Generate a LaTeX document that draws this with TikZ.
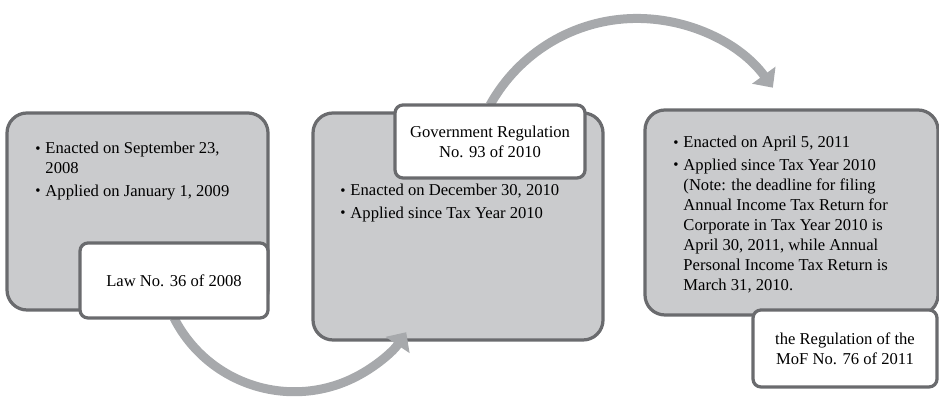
\documentclass[tikz,border=0pt]{standalone}
\usepackage{fontspec}
\setmainfont{Liberation Serif}
\usetikzlibrary{arrows.meta}
\definecolor{boxgray}{HTML}{CACBCD}
\definecolor{edgegray}{HTML}{6A6B6E}
\definecolor{flowgray}{HTML}{A7A9AC}
\newcommand{\bul}{\raisebox{0.1ex}{\scalebox{0.9}{\textbullet}}\hspace{0.3em}}
\newcommand{\bulgap}{\hphantom{\bul}}
\begin{document}
\begin{tikzpicture}[
  panel/.style={draw=edgegray, line width=2.3pt, fill=boxgray, rounded corners=0.5cm},
  tag/.style={draw=edgegray, line width=2.3pt, fill=white, rounded corners=0.2cm, align=center},
  notes/.style={anchor=north west, align=left, inner sep=0pt},
  flow/.style={draw=flowgray, line width=6.4pt, -{Triangle[width=20pt, length=11pt]}}
]
\useasboundingbox (0,0) rectangle (23.475,10);
\fontsize{11.8}{14.2}\selectfont
% panels
\node[panel, minimum width=6.525cm, minimum height=4.925cm] (p1) at (3.4375,4.7125) {};
\node[panel, minimum width=7.25cm, minimum height=5.675cm] (p2) at (11.45,4.3375) {};
\node[panel, minimum width=7.325cm, minimum height=5.125cm] (p3) at (19.7875,4.6875) {};

% arrows
\coordinate (s1) at (4.35,2.05);
\coordinate (s2) at (12.25,7.375);
\draw[flow] (s1) arc[start angle=207, end angle=326, radius=3.375cm];
\draw[flow] (s2) arc[start angle=151, end angle=36, radius=4.2cm];

% tags
\node[tag, minimum width=4.7cm, minimum height=1.875cm] (law) at (4.35,2.9875) {Law No. 36 of 2008};
\node[tag, minimum width=4.75cm, minimum height=1.825cm] (reg) at (12.25,6.4625) {Government Regulation\\No. 93 of 2010};
\node[tag, minimum width=4.6cm, minimum height=1.925cm] (mof) at (21.125,1.2875) {the Regulation of the\\MoF No. 76 of 2011};

% texts
\node[notes] (t1) at (0.875,6.45) {\bul Enacted on September 23,\\\bulgap 2008\\[2pt]\bul Applied on January 1, 2009};
\node[notes] (t2) at (8.5,5.4) {\bul Enacted on December 30, 2010\\[2pt]\bul Applied since Tax Year 2010};
\node[notes] (t3) at (16.825,6.6) {\bul Enacted on April 5, 2011\\[2pt]\bul Applied since Tax Year 2010\\\bulgap (Note: the deadline for filing\\\bulgap Annual Income Tax Return for\\\bulgap Corporate in Tax Year 2010 is\\\bulgap April 30, 2011, while Annual\\\bulgap Personal Income Tax Return is\\\bulgap March 31, 2010.};
\end{tikzpicture}
\end{document}
